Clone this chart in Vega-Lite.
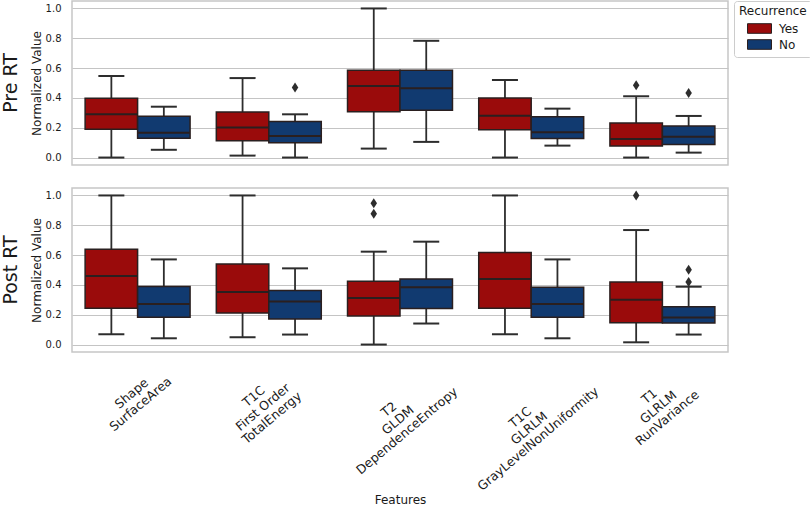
{
  "$schema": "https://vega.github.io/schema/vega-lite/v6.json",
  "padding": {"left": 2, "top": 0, "right": 2, "bottom": 0},
  "datasets": {
    "rows": [
      {"kind": "box", "phase": "Pre RT", "feature": "Shape\nSurfaceArea", "rec": "Yes", "lo": 0.0, "q1": 0.19, "med": 0.29, "q3": 0.397, "hi": 0.547},
      {"kind": "box", "phase": "Pre RT", "feature": "Shape\nSurfaceArea", "rec": "No", "lo": 0.052, "q1": 0.13, "med": 0.167, "q3": 0.277, "hi": 0.341},
      {"kind": "box", "phase": "Pre RT", "feature": "T1C\nFirst Order\nTotalEnergy", "rec": "Yes", "lo": 0.013, "q1": 0.112, "med": 0.201, "q3": 0.306, "hi": 0.533},
      {"kind": "box", "phase": "Pre RT", "feature": "T1C\nFirst Order\nTotalEnergy", "rec": "No", "lo": 0.0, "q1": 0.1, "med": 0.145, "q3": 0.241, "hi": 0.29},
      {"kind": "box", "phase": "Pre RT", "feature": "T2\nGLDM\nDependenceEntropy", "rec": "Yes", "lo": 0.06, "q1": 0.308, "med": 0.48, "q3": 0.585, "hi": 1.0},
      {"kind": "box", "phase": "Pre RT", "feature": "T2\nGLDM\nDependenceEntropy", "rec": "No", "lo": 0.105, "q1": 0.317, "med": 0.464, "q3": 0.585, "hi": 0.783},
      {"kind": "box", "phase": "Pre RT", "feature": "T1C\nGLRLM\nGrayLevelNonUniformity", "rec": "Yes", "lo": 0.0, "q1": 0.187, "med": 0.281, "q3": 0.4, "hi": 0.52},
      {"kind": "box", "phase": "Pre RT", "feature": "T1C\nGLRLM\nGrayLevelNonUniformity", "rec": "No", "lo": 0.08, "q1": 0.127, "med": 0.17, "q3": 0.274, "hi": 0.328},
      {"kind": "box", "phase": "Pre RT", "feature": "T1\nGLRLM\nRunVariance", "rec": "Yes", "lo": 0.0, "q1": 0.078, "med": 0.125, "q3": 0.232, "hi": 0.411},
      {"kind": "box", "phase": "Pre RT", "feature": "T1\nGLRLM\nRunVariance", "rec": "No", "lo": 0.033, "q1": 0.087, "med": 0.139, "q3": 0.212, "hi": 0.279},
      {"kind": "box", "phase": "Post RT", "feature": "Shape\nSurfaceArea", "rec": "Yes", "lo": 0.069, "q1": 0.243, "med": 0.46, "q3": 0.64, "hi": 1.0},
      {"kind": "box", "phase": "Post RT", "feature": "Shape\nSurfaceArea", "rec": "No", "lo": 0.042, "q1": 0.183, "med": 0.272, "q3": 0.39, "hi": 0.571},
      {"kind": "box", "phase": "Post RT", "feature": "T1C\nFirst Order\nTotalEnergy", "rec": "Yes", "lo": 0.049, "q1": 0.212, "med": 0.352, "q3": 0.54, "hi": 1.0},
      {"kind": "box", "phase": "Post RT", "feature": "T1C\nFirst Order\nTotalEnergy", "rec": "No", "lo": 0.067, "q1": 0.172, "med": 0.288, "q3": 0.362, "hi": 0.511},
      {"kind": "box", "phase": "Post RT", "feature": "T2\nGLDM\nDependenceEntropy", "rec": "Yes", "lo": 0.0, "q1": 0.192, "med": 0.312, "q3": 0.424, "hi": 0.623},
      {"kind": "box", "phase": "Post RT", "feature": "T2\nGLDM\nDependenceEntropy", "rec": "No", "lo": 0.141, "q1": 0.241, "med": 0.384, "q3": 0.44, "hi": 0.69},
      {"kind": "box", "phase": "Post RT", "feature": "T1C\nGLRLM\nGrayLevelNonUniformity", "rec": "Yes", "lo": 0.069, "q1": 0.243, "med": 0.44, "q3": 0.618, "hi": 1.0},
      {"kind": "box", "phase": "Post RT", "feature": "T1C\nGLRLM\nGrayLevelNonUniformity", "rec": "No", "lo": 0.042, "q1": 0.183, "med": 0.272, "q3": 0.384, "hi": 0.571},
      {"kind": "box", "phase": "Post RT", "feature": "T1\nGLRLM\nRunVariance", "rec": "Yes", "lo": 0.015, "q1": 0.147, "med": 0.301, "q3": 0.419, "hi": 0.768},
      {"kind": "box", "phase": "Post RT", "feature": "T1\nGLRLM\nRunVariance", "rec": "No", "lo": 0.067, "q1": 0.145, "med": 0.181, "q3": 0.254, "hi": 0.388},
      {"kind": "out", "phase": "Pre RT", "feature": "T1C\nFirst Order\nTotalEnergy", "rec": "No", "v": 0.469},
      {"kind": "out", "phase": "Pre RT", "feature": "T1\nGLRLM\nRunVariance", "rec": "Yes", "v": 0.485},
      {"kind": "out", "phase": "Pre RT", "feature": "T1\nGLRLM\nRunVariance", "rec": "No", "v": 0.433},
      {"kind": "out", "phase": "Post RT", "feature": "T2\nGLDM\nDependenceEntropy", "rec": "Yes", "v": 0.948},
      {"kind": "out", "phase": "Post RT", "feature": "T2\nGLDM\nDependenceEntropy", "rec": "Yes", "v": 0.877},
      {"kind": "out", "phase": "Post RT", "feature": "T1\nGLRLM\nRunVariance", "rec": "Yes", "v": 1.0},
      {"kind": "out", "phase": "Post RT", "feature": "T1\nGLRLM\nRunVariance", "rec": "No", "v": 0.502},
      {"kind": "out", "phase": "Post RT", "feature": "T1\nGLRLM\nRunVariance", "rec": "No", "v": 0.419}
    ]
  },
  "data": {"name": "rows"},
  "facet": {
    "row": {
      "field": "phase", "type": "nominal", "sort": ["Pre RT", "Post RT"],
      "header": {"title": null, "labelOrient": "left", "labelAngle": -90, "labelFontSize": 19, "labelColor": "#1a1a1a", "labelPadding": 0, "labelFont": "DejaVu Sans"}
    }
  },
  "spacing": 21,
  "spec": {
    "width": 656,
    "height": 164,
    "encoding": {
      "x": {
        "field": "feature", "type": "nominal",
        "sort": ["Shape\nSurfaceArea", "T1C\nFirst Order\nTotalEnergy", "T2\nGLDM\nDependenceEntropy", "T1C\nGLRLM\nGrayLevelNonUniformity", "T1\nGLRLM\nRunVariance"],
        "scale": {"paddingInner": 0.2, "paddingOuter": 0.1},
        "title": "Features",
        "axis": {
          "domain": false, "ticks": false, "tickSize": 0, "grid": false,
          "labelAngle": -40, "labelAlign": "center", "labelBaseline": "middle",
          "labelFontSize": 12.5, "labelLineHeight": 14, "labelColor": "#1a1a1a",
          "labelOverlap": false, "labelBound": false, "labelFlush": false,
          "labelExpr": "split(datum.label, '\\n')",
          "labelPadding": {
            "condition": [
              {"test": "indexof(datum.value, 'Shape') >= 0", "value": 40},
              {"test": "indexof(datum.value, 'TotalEnergy') >= 0", "value": 43},
              {"test": "indexof(datum.value, 'Dependence') >= 0", "value": 56},
              {"test": "indexof(datum.value, 'GrayLevel') >= 0", "value": 64}
            ],
            "value": 43
          },
          "labelOffset": {
            "condition": [
              {"test": "indexof(datum.value, 'Shape') >= 0", "value": -6},
              {"test": "indexof(datum.value, 'TotalEnergy') >= 0", "value": -15},
              {"test": "indexof(datum.value, 'Dependence') >= 0", "value": -11},
              {"test": "indexof(datum.value, 'GrayLevel') >= 0", "value": -11}
            ],
            "value": -13
          },
          "titleFontSize": 12, "titleFontWeight": "normal", "titleColor": "#1a1a1a",
          "titleBaseline": "alphabetic", "titleY": 150
        }
      },
      "xOffset": {"field": "rec", "type": "nominal", "sort": ["Yes", "No"], "scale": {"paddingInner": 0, "paddingOuter": 0}}
    },
    "layer": [
      {
        "transform": [{"filter": "datum.kind == 'box'"}],
        "mark": {"type": "rule", "color": "#2d2d2d", "strokeWidth": 1.8},
        "encoding": {
          "y": {"field": "lo", "type": "quantitative", "title": "Normalized Value", "scale": {"domain": [-0.05, 1.05], "nice": false, "zero": false}},
          "y2": {"field": "hi"}
        }
      },
      {
        "transform": [{"filter": "datum.kind == 'box'"}],
        "mark": {"type": "bar", "stroke": "#2a1f1f", "strokeWidth": 1.5},
        "encoding": {
          "y": {"field": "q1", "type": "quantitative", "title": "Normalized Value"},
          "y2": {"field": "q3"},
          "color": {
            "field": "rec", "type": "nominal", "title": "Recurrence",
            "scale": {"domain": ["Yes", "No"], "range": ["#9a0b0b", "#113a70"]},
            "legend": {"symbolType": "M-1.5,-0.6H1.5V0.6H-1.5Z", "symbolSize": 256, "symbolStrokeColor": "#2a1f1f", "symbolStrokeWidth": 1, "symbolOffset": 12, "labelOffset": 11}
          }
        }
      },
      {
        "transform": [{"filter": "datum.kind == 'box'"}],
        "mark": {"type": "tick", "color": "#2a1f1f", "thickness": 2, "size": 52, "opacity": 1},
        "encoding": {"y": {"field": "med", "type": "quantitative", "title": "Normalized Value"}}
      },
      {
        "transform": [{"filter": "datum.kind == 'box'"}],
        "mark": {"type": "tick", "color": "#2d2d2d", "thickness": 2, "size": 26, "opacity": 1},
        "encoding": {"y": {"field": "lo", "type": "quantitative", "title": "Normalized Value"}}
      },
      {
        "transform": [{"filter": "datum.kind == 'box'"}],
        "mark": {"type": "tick", "color": "#2d2d2d", "thickness": 2, "size": 26, "opacity": 1},
        "encoding": {"y": {"field": "hi", "type": "quantitative", "title": "Normalized Value"}}
      },
      {
        "transform": [{"filter": "datum.kind == 'out'"}],
        "mark": {"type": "point", "shape": "M0,-1L0.65,0L0,1L-0.65,0Z", "filled": true, "color": "#2d2d2d", "size": 100, "opacity": 1},
        "encoding": {"y": {"field": "v", "type": "quantitative", "title": "Normalized Value"}}
      }
    ]
  },
  "config": {
    "font": "DejaVu Sans",
    "view": {"stroke": "#c6c6c6", "strokeWidth": 1.5},
    "axisY": {
      "domain": false, "ticks": false, "grid": true, "gridColor": "#c4c4c4", "gridWidth": 1.2,
      "values": [0, 0.2, 0.4, 0.6, 0.8, 1.0], "format": ".1f",
      "labelFontSize": 10, "labelColor": "#1a1a1a", "labelPadding": 10,
      "titleFontSize": 12, "titleFontWeight": "normal", "titleColor": "#1a1a1a", "titlePadding": 2
    },
    "legend": {
      "orient": "right", "offset": 5, "padding": 5, "strokeColor": "#cccccc", "cornerRadius": 3, "fillColor": "white",
      "titleFontSize": 12, "titleFontWeight": "normal", "titleColor": "#1a1a1a", "titlePadding": 2,
      "labelFontSize": 12, "labelColor": "#1a1a1a", "rowPadding": 0
    }
  }
}
